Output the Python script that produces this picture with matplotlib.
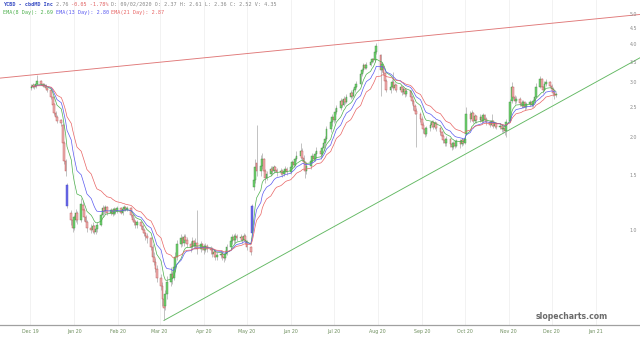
import numpy as np
import pandas as pd
import matplotlib
matplotlib.use('Agg')
import matplotlib.pyplot as plt
import matplotlib.transforms as mtrans

# ---------------- data (daily, one week per half line) ----------------
start_day = '2019-12-02'

opens = [
    2.88, 2.92, 2.95, 2.90, 2.97,  3.04, 2.98, 2.93, 2.95, 2.89,
    2.84, 2.70, 2.56, 2.40, 2.33,  2.27, 2.20, 1.92, 1.68, 1.40,
    1.14, 1.08, 1.02, 1.08, 1.14,  1.08, 1.21, 1.16, 1.10, 1.06,
    1.02, 1.00, 1.03, 0.99, 1.01,  1.04, 1.12, 1.18, 1.15, 1.19,
    1.14, 1.16, 1.13, 1.17, 1.15,  1.18, 1.14, 1.17, 1.19, 1.16,
    1.18, 1.12, 1.08, 1.06, 1.04,  1.06, 1.03, 1.00, 0.98, 0.96,
    0.94, 0.88, 0.82, 0.79, 0.75,  0.70, 0.66, 0.60, 0.57, 0.62,
    0.68, 0.72, 0.70, 0.76, 0.82,  0.90, 0.94, 0.91, 0.95, 0.93,
    0.90, 0.88, 0.92, 0.89, 0.91,  0.87, 0.90, 0.88, 0.86, 0.89,
    0.87, 0.86, 0.84, 0.85, 0.82,  0.83, 0.84, 0.82, 0.81, 0.84,
    0.88, 0.92, 0.95, 0.93, 0.96,  0.94, 0.95, 0.93, 0.96, 0.92,
    0.88, 0.98, 1.38, 1.45, 1.65,  1.55, 1.62, 1.70, 1.55, 1.48,
    1.52, 1.58, 1.55, 1.60, 1.57,  1.54, 1.56, 1.52, 1.55, 1.58,
    1.54, 1.60, 1.66, 1.63, 1.70,  1.74, 1.80, 1.72, 1.66, 1.55,
    1.62, 1.68, 1.74, 1.70, 1.76,  1.80, 1.76, 1.84, 1.92, 1.98,
    2.12, 2.24, 2.32, 2.28, 2.42,  2.48, 2.62, 2.55, 2.66, 2.60,
    2.70, 2.78, 2.72, 2.84, 2.92,  2.98, 3.20, 3.30, 3.42, 3.36,
    3.44, 3.52, 3.58, 3.55, 3.78,  3.70, 3.30, 3.40, 3.22, 3.05,
    2.85, 2.92, 3.02, 2.88, 2.95,  2.84, 2.90, 2.80, 2.86, 2.76,
    2.82, 2.70, 2.62, 2.52, 2.44,  2.38, 2.30, 2.20, 2.12, 2.05,
    2.14, 2.20, 2.24, 2.16, 2.22,  2.14, 2.08, 2.02, 1.96, 1.92,
    1.98, 1.90, 1.86, 1.92, 1.88,  1.94, 1.90, 1.96, 1.92, 2.05,
    2.38, 2.30, 2.40, 2.26, 2.34,  2.28, 2.32, 2.26, 2.36, 2.30,
    2.24, 2.20, 2.26, 2.18, 2.22,  2.16, 2.18, 2.12, 2.14, 2.10,
    2.26, 2.62, 2.90, 2.70, 2.62,  2.66, 2.58, 2.52, 2.60, 2.50,
    2.56, 2.60, 2.54, 2.62, 2.70,  2.92, 3.08, 2.90, 2.84, 2.98,
    3.02, 2.94, 2.86, 2.78, 2.74,
]

highs = [
    2.98, 3.00, 2.97, 3.02, 3.18,  3.06, 3.00, 2.99, 2.97, 2.92,
    2.86, 2.73, 2.58, 2.44, 2.36,  2.30, 2.22, 1.95, 1.70, 1.42,
    1.16, 1.10, 1.12, 1.17, 1.15,  1.27, 1.24, 1.18, 1.12, 1.08,
    1.05, 1.06, 1.04, 1.03, 1.06,  1.14, 1.21, 1.20, 1.21, 1.20,
    1.18, 1.18, 1.19, 1.18, 1.20,  1.19, 1.18, 1.21, 1.20, 1.20,
    1.19, 1.13, 1.10, 1.08, 1.08,  1.07, 1.05, 1.02, 0.99, 0.98,
    0.95, 0.90, 0.85, 0.81, 0.77,  0.72, 0.68, 0.62, 0.64, 0.71,
    0.76, 0.74, 0.79, 0.85, 0.93,  0.97, 0.96, 0.97, 0.97, 0.95,
    0.92, 0.95, 0.93, 0.94, 1.16,  0.92, 0.91, 0.90, 0.91, 0.90,
    0.89, 0.88, 0.87, 0.86, 0.85,  0.86, 0.86, 0.84, 0.86, 0.90,
    0.94, 0.97, 0.97, 0.98, 0.97,  0.97, 0.96, 0.98, 0.97, 0.93,
    0.89, 1.22, 1.50, 1.70, 2.19,  1.75, 1.78, 1.72, 1.58, 1.56,
    1.62, 1.61, 1.63, 1.62, 1.59,  1.59, 1.58, 1.57, 1.61, 1.60,
    1.63, 1.69, 1.68, 1.73, 1.80,  1.92, 1.84, 1.75, 1.68, 1.66,
    1.71, 1.78, 1.76, 1.80, 1.86,  1.82, 1.88, 1.96, 2.02, 2.18,
    2.30, 2.38, 2.36, 2.48, 2.54,  2.68, 2.66, 2.72, 2.70, 2.76,
    2.84, 2.80, 2.88, 2.96, 3.04,  3.26, 3.36, 3.48, 3.46, 3.50,
    3.56, 3.62, 3.62, 3.84, 4.05,  3.72, 3.50, 3.44, 3.26, 3.10,
    2.98, 3.08, 3.25, 2.99, 2.98,  2.95, 2.93, 2.90, 2.88, 2.86,
    2.84, 2.74, 2.66, 2.56, 2.48,  2.42, 2.34, 2.25, 2.16, 2.18,
    2.25, 2.28, 2.27, 2.26, 2.24,  2.16, 2.10, 2.05, 1.99, 2.02,
    1.99, 1.93, 1.95, 1.94, 1.97,  1.97, 1.99, 1.98, 2.02, 2.50,
    2.44, 2.46, 2.42, 2.38, 2.36,  2.38, 2.35, 2.40, 2.38, 2.33,
    2.27, 2.38, 2.28, 2.25, 2.24,  2.22, 2.20, 2.17, 2.16, 2.30,
    2.66, 3.02, 2.92, 2.74, 2.72,  2.70, 2.64, 2.64, 2.63, 2.60,
    2.64, 2.63, 2.66, 2.76, 3.00,  3.16, 3.12, 2.94, 3.04, 3.08,
    3.04, 2.97, 2.90, 2.82, 2.80,
]

lows = [
    2.84, 2.88, 2.86, 2.88, 2.95,  2.95, 2.90, 2.90, 2.85, 2.80,
    2.66, 2.50, 2.36, 2.28, 2.22,  2.18, 1.88, 1.64, 1.50, 1.18,
    1.04, 0.99, 1.00, 1.06, 1.05,  1.06, 1.12, 1.07, 1.03, 0.99,
    0.98, 0.98, 0.97, 0.97, 0.99,  1.03, 1.10, 1.13, 1.13, 1.12,
    1.12, 1.11, 1.12, 1.13, 1.14,  1.13, 1.12, 1.15, 1.15, 1.15,
    1.10, 1.06, 1.04, 1.02, 1.02,  1.01, 0.98, 0.96, 0.93, 0.91,
    0.86, 0.80, 0.77, 0.73, 0.68,  0.64, 0.57, 0.51, 0.55, 0.60,
    0.66, 0.67, 0.69, 0.74, 0.80,  0.88, 0.89, 0.89, 0.91, 0.88,
    0.85, 0.86, 0.87, 0.87, 0.84,  0.85, 0.86, 0.84, 0.85, 0.85,
    0.84, 0.82, 0.82, 0.80, 0.80,  0.81, 0.80, 0.79, 0.80, 0.83,
    0.87, 0.90, 0.91, 0.91, 0.92,  0.92, 0.91, 0.92, 0.90, 0.86,
    0.83, 0.97, 1.35, 1.42, 1.50,  1.50, 1.58, 1.50, 1.42, 1.45,
    1.50, 1.52, 1.53, 1.54, 1.50,  1.51, 1.49, 1.50, 1.53, 1.51,
    1.52, 1.58, 1.60, 1.61, 1.67,  1.70, 1.68, 1.62, 1.48, 1.52,
    1.58, 1.65, 1.67, 1.67, 1.72,  1.70, 1.73, 1.81, 1.88, 1.95,
    2.08, 2.18, 2.22, 2.25, 2.38,  2.45, 2.50, 2.52, 2.56, 2.58,
    2.66, 2.68, 2.70, 2.80, 2.88,  2.96, 3.15, 3.26, 3.32, 3.33,
    3.40, 3.48, 3.50, 3.52, 3.72,  2.72, 3.25, 3.18, 3.00, 2.80,
    2.78, 2.88, 2.84, 2.84, 2.80,  2.80, 2.74, 2.76, 2.70, 2.72,
    2.66, 2.56, 2.46, 2.38, 1.86,  2.25, 2.15, 2.06, 2.00, 2.02,
    2.10, 2.16, 2.12, 2.12, 2.10,  2.04, 1.98, 1.92, 1.87, 1.88,
    1.86, 1.82, 1.83, 1.85, 1.86,  1.85, 1.87, 1.89, 1.90, 2.03,
    2.24, 2.26, 2.22, 2.22, 2.22,  2.24, 2.22, 2.24, 2.26, 2.20,
    2.16, 2.17, 2.14, 2.15, 2.12,  2.12, 2.08, 2.07, 2.04, 2.00,
    2.24, 2.58, 2.66, 2.56, 2.58,  2.52, 2.48, 2.48, 2.46, 2.47,
    2.52, 2.50, 2.51, 2.58, 2.68,  2.88, 2.86, 2.78, 2.82, 2.94,
    2.90, 2.82, 2.72, 2.66, 2.70,
]

closes = [
    2.92, 2.95, 2.90, 2.97, 3.05,  2.98, 2.93, 2.95, 2.88, 2.84,
    2.70, 2.55, 2.40, 2.32, 2.26,  2.22, 1.92, 1.68, 1.55, 1.20,
    1.08, 1.02, 1.10, 1.14, 1.08,  1.22, 1.16, 1.10, 1.06, 1.02,
    1.00, 1.03, 0.99, 1.01, 1.04,  1.12, 1.18, 1.15, 1.19, 1.14,
    1.16, 1.13, 1.17, 1.15, 1.18,  1.14, 1.17, 1.19, 1.16, 1.18,
    1.12, 1.08, 1.06, 1.04, 1.06,  1.03, 1.00, 0.98, 0.96, 0.94,
    0.88, 0.82, 0.79, 0.75, 0.70,  0.66, 0.60, 0.56, 0.62, 0.68,
    0.72, 0.70, 0.76, 0.82, 0.90,  0.94, 0.91, 0.95, 0.93, 0.90,
    0.88, 0.92, 0.89, 0.91, 0.87,  0.90, 0.88, 0.86, 0.89, 0.87,
    0.86, 0.84, 0.85, 0.82, 0.83,  0.84, 0.82, 0.81, 0.84, 0.88,
    0.92, 0.95, 0.93, 0.96, 0.94,  0.95, 0.93, 0.96, 0.92, 0.88,
    0.85, 1.20, 1.45, 1.60, 1.55,  1.62, 1.70, 1.55, 1.48, 1.52,
    1.58, 1.55, 1.60, 1.57, 1.54,  1.56, 1.52, 1.55, 1.58, 1.54,
    1.60, 1.66, 1.63, 1.70, 1.74,  1.80, 1.72, 1.66, 1.55, 1.62,
    1.68, 1.74, 1.70, 1.76, 1.80,  1.76, 1.84, 1.92, 1.98, 2.12,
    2.24, 2.32, 2.28, 2.42, 2.48,  2.62, 2.55, 2.66, 2.60, 2.70,
    2.78, 2.72, 2.84, 2.92, 2.98,  3.20, 3.30, 3.42, 3.36, 3.44,
    3.52, 3.58, 3.55, 3.78, 3.96,  3.30, 3.45, 3.22, 3.05, 2.85,
    2.92, 3.02, 2.88, 2.95, 2.84,  2.90, 2.80, 2.86, 2.76, 2.82,
    2.70, 2.62, 2.52, 2.44, 2.38,  2.30, 2.20, 2.12, 2.05, 2.14,
    2.20, 2.24, 2.16, 2.22, 2.14,  2.08, 2.02, 1.96, 1.92, 1.98,
    1.90, 1.86, 1.92, 1.88, 1.94,  1.90, 1.96, 1.92, 1.98, 2.38,
    2.30, 2.40, 2.26, 2.34, 2.28,  2.32, 2.26, 2.36, 2.30, 2.24,
    2.20, 2.26, 2.18, 2.22, 2.16,  2.18, 2.12, 2.14, 2.10, 2.24,
    2.60, 2.92, 2.70, 2.62, 2.66,  2.58, 2.52, 2.60, 2.50, 2.56,
    2.60, 2.54, 2.62, 2.70, 2.92,  3.08, 2.90, 2.84, 2.98, 3.02,
    2.94, 2.86, 2.78, 2.74, 2.76,
]

# gap candles drawn in blue
blue_days = ['2019-12-27', '2020-05-05']

ema_spans = [8, 13, 21]
ema_colors = ['#4cb04c', '#5a5af0', '#e86464']

# trend lines (date, price) end points
resist_dates = ['2019-11-10', '2021-02-01']
resist_prices = [3.11, 5.0]
support_dates = ['2020-03-04', '2021-02-01']
support_prices = [0.51, 3.62]

y_ticks = [1.0, 1.5, 2.0, 2.5, 3.0, 3.5, 4.0, 4.5, 5.0]
month_ticks = pd.date_range('2019-12-01', '2021-01-01', freq='MS')
month_labels = [d.strftime('%b %y') for d in month_ticks]

title_parts = [('YCBD - cbdMD Inc ', '#3b4fc4', 'bold'), ('2.76 ', '#888888', 'normal'),
               ('-0.05 -1.78% ', '#e06060', 'normal'),
               ('D: 09/02/2020 O: 2.37 H: 2.61 L: 2.36 C: 2.52 V: 4.35', '#888888', 'normal')]
ema_parts = [('EMA(8 Day): 2.69 ', '#4cb04c', 'normal'), ('EMA(13 Day): 2.80 ', '#5a5af0', 'normal'),
             ('EMA(21 Day): 2.87', '#e86464', 'normal')]

# ---------------- plot ----------------
dates = pd.bdate_range(start_day, periods=len(closes))
df = pd.DataFrame({'o': opens, 'h': highs, 'l': lows, 'c': closes}, index=dates)

fig = plt.figure(figsize=(6.4, 3.38), dpi=100)
ax = fig.add_axes([0, 13 / 338, 1, 325 / 338])
ax.set_yscale('log')

# faint vertical grid
for d in month_ticks:
    ax.axvline(d, color='#f0f0f0', lw=0.6, zorder=0)

# wicks
ax.vlines(df.index, df['l'], df['h'], color='#a0a0a0', lw=0.45, zorder=2)

up = df['c'] >= df['o']
body_lo = df[['o', 'c']].min(axis=1)
body_hi = df[['o', 'c']].max(axis=1)
fill = np.where(up, '#70d070', '#eeb0b0')
edge = np.where(up, '#3f8f3f', '#bb5050')
for i, d in enumerate(df.index):
    if d.strftime('%Y-%m-%d') in blue_days:
        fill[i] = '#6a6ae8'
        edge[i] = '#4545c8'
ax.bar(df.index, body_hi - body_lo, bottom=body_lo, width=1.2,
       color=fill, edgecolor=edge, linewidth=0.3, zorder=3)

# moving averages
for span, col in zip(ema_spans, ema_colors):
    ema = df['c'].ewm(span=span, adjust=False).mean()
    ax.plot(df.index, ema, color=col, lw=0.5, zorder=4)

# trend lines
ax.plot(pd.to_datetime(resist_dates), resist_prices, color='#e07878', lw=0.65, zorder=1)
ax.plot(pd.to_datetime(support_dates), support_prices, color='#62b862', lw=0.65, zorder=1)

ax.set_xlim(pd.Timestamp('2019-11-10'), pd.Timestamp('2021-02-01'))
ax.set_ylim(0.493, 5.57)

ax.set_yticks([])
ax.yaxis.set_minor_locator(matplotlib.ticker.NullLocator())
tr = mtrans.blended_transform_factory(ax.transAxes, ax.transData)
for v in y_ticks:
    ax.text(0.996, v, f'{v:.1f}', transform=tr, ha='right', va='center',
            fontsize=3.4, color='#8a8a8a')

ax.set_xticks(month_ticks)
ax.set_xticklabels(month_labels, fontsize=3.4, color='#6f8f5f')
ax.tick_params(axis='x', length=0, pad=3)

for s in ['top', 'left', 'right']:
    ax.spines[s].set_visible(False)
ax.spines['bottom'].set_color('#a0a0a0')
ax.spines['bottom'].set_linewidth(0.9)

# watermark
ax.text(0.95, 0.012, 'slopecharts.com', transform=ax.transAxes, ha='right', va='bottom',
        fontsize=5.6, color='#6a6a6a', fontweight='bold')

# header lines (monospace, coloured pieces)
fs = 3.7
char_px = 0.602 * fs * 100 / 72
for parts, ypx in [(title_parts, 4.5), (ema_parts, 12.5)]:
    x = 3
    for txt, col, wt in parts:
        fig.text(x / 640, 1 - ypx / 338, txt, fontsize=fs, color=col, fontweight=wt,
                 family='DejaVu Sans Mono', ha='left', va='center')
        x += len(txt) * char_px

fig.savefig('out.png', dpi=100)
